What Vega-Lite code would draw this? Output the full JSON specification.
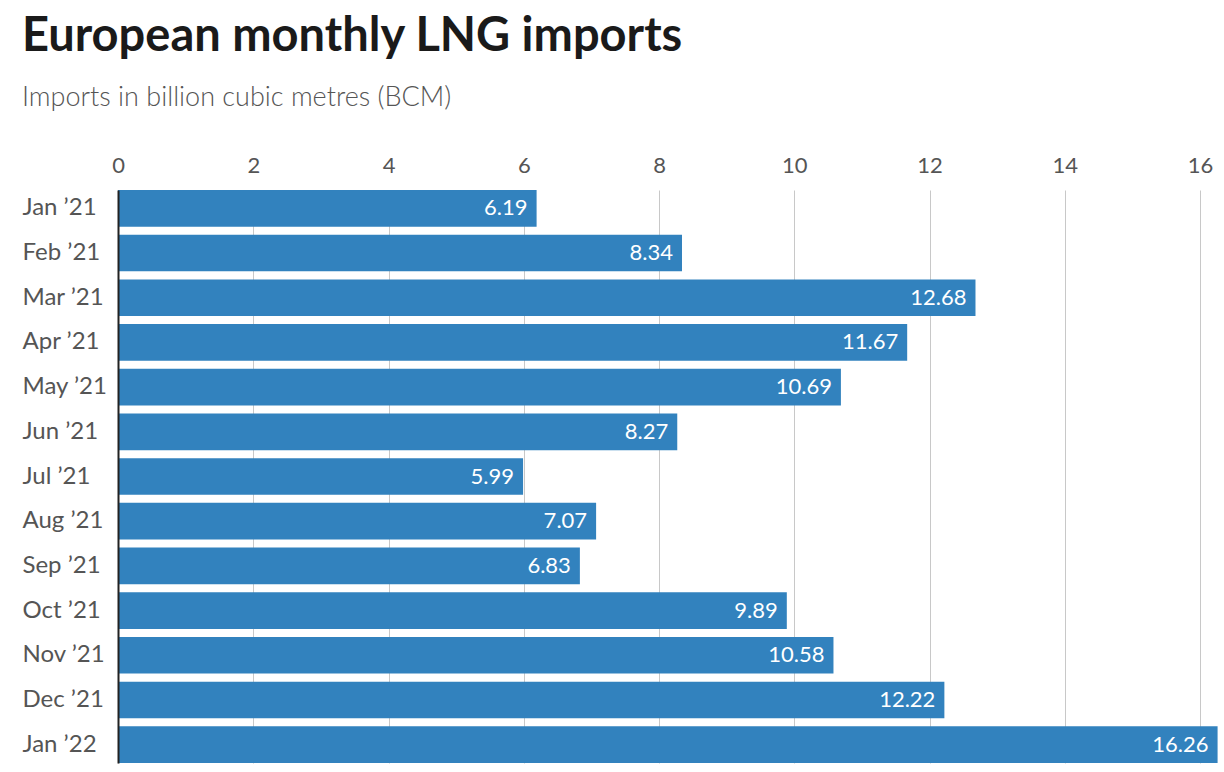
{
  "$schema": "https://vega.github.io/schema/vega-lite/v6.json",
  "width": 1082,
  "height": 573,
  "autosize": {"type": "none"},
  "padding": {"left": 118, "top": 190, "right": 24, "bottom": 9},
  "background": "white",
  "title": {
    "text": "European monthly LNG imports",
    "subtitle": "Imports in billion cubic metres (BCM)",
    "anchor": "start",
    "frame": "bounds",
    "font": "Lato",
    "fontSize": 47,
    "fontWeight": "bold",
    "color": "#1a1a1a",
    "subtitleFont": "Lato",
    "subtitleFontSize": 27,
    "subtitleFontWeight": 300,
    "subtitleColor": "#555555",
    "subtitlePadding": 24,
    "offset": 42
  },
  "data": {
    "values": [
      {"month": "Jan ’21", "bcm": 6.19},
      {"month": "Feb ’21", "bcm": 8.34},
      {"month": "Mar ’21", "bcm": 12.68},
      {"month": "Apr ’21", "bcm": 11.67},
      {"month": "May ’21", "bcm": 10.69},
      {"month": "Jun ’21", "bcm": 8.27},
      {"month": "Jul ’21", "bcm": 5.99},
      {"month": "Aug ’21", "bcm": 7.07},
      {"month": "Sep ’21", "bcm": 6.83},
      {"month": "Oct ’21", "bcm": 9.89},
      {"month": "Nov ’21", "bcm": 10.58},
      {"month": "Dec ’21", "bcm": 12.22},
      {"month": "Jan ’22", "bcm": 16.26}
    ]
  },
  "encoding": {
    "y": {
      "field": "month",
      "type": "nominal",
      "sort": null,
      "title": null,
      "scale": {"paddingInner": 0.18, "paddingOuter": 0},
      "axis": {
        "zindex": 1,
        "ticks": false,
        "domain": true,
        "domainColor": "#222222",
        "domainWidth": 2,
        "labelAlign": "left",
        "labelPadding": 96,
        "labelFont": "Lato",
        "labelFontSize": 24,
        "labelColor": "#555555",
        "grid": false
      }
    },
    "x": {
      "field": "bcm",
      "type": "quantitative",
      "title": null,
      "scale": {"domain": [0, 16], "nice": false},
      "axis": {
        "orient": "top",
        "values": [0, 2, 4, 6, 8, 10, 12, 14, 16],
        "ticks": false,
        "domain": false,
        "grid": true,
        "gridColor": "#c8c8c8",
        "gridWidth": 1,
        "labelFont": "Lato",
        "labelFontSize": 22,
        "labelColor": "#555555",
        "labelPadding": 13,
        "labelFlush": false
      }
    }
  },
  "layer": [
    {"mark": {"type": "bar", "color": "#3282be", "clip": false}},
    {
      "mark": {
        "type": "text",
        "align": "right",
        "baseline": "middle",
        "dx": -9,
        "color": "white",
        "font": "Lato",
        "fontSize": 22
      },
      "encoding": {"text": {"field": "bcm", "type": "quantitative", "format": ".2f"}}
    }
  ],
  "config": {"view": {"stroke": null}}
}
